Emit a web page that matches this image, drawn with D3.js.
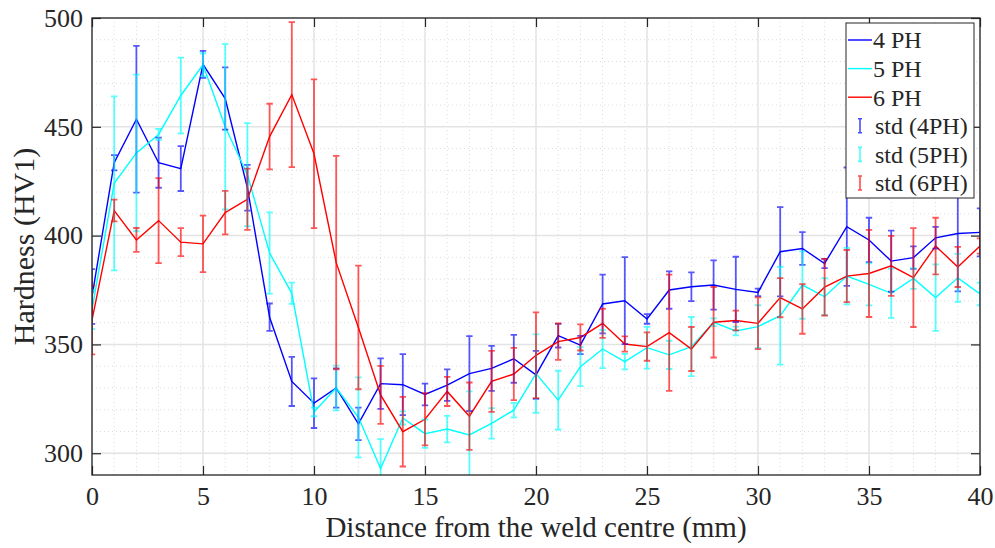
<!DOCTYPE html>
<html>
<head>
<meta charset="utf-8">
<script src="https://cdn.jsdelivr.net/npm/d3@7"></script>
<style>
  body { margin: 0; background: #fff; }
  text { font-family: "Liberation Serif", "Times New Roman", serif; fill: #262626; }
</style>
</head>
<body>
<svg id="chart" width="995" height="548"></svg>
<script>
// Distance from the weld centre (mm)
const distance = [0,1,2,3,4,5,6,7,8,9,10,11,12,13,14,15,16,17,18,19,20,
                  21,22,23,24,25,26,27,28,29,30,31,32,33,34,35,36,37,38,39,40];

// Mean hardness (HV1) per build
const hv4PH = [372,433.5,453.5,433.5,430.8,478.7,463,422,362.5,333,323,330,313.5,332,331.5,327,331.3,336.6,339,343.4,336,
               354,349.7,368.6,370.1,361.7,375,376.5,377.3,375.3,373.9,392.6,394.1,387.2,404.1,398,388.3,389.9,399,401,401.5];
const hv5PH = [366,424,438,446.5,464.4,478.5,450,428,392,373.5,319,330,316.5,293,316.2,309,311.1,308.4,313.7,319.8,336.6,
               324.4,339.8,347.9,342.1,348.5,345.2,349,360.2,356.2,358.2,363.2,377.3,371.9,381.4,377.6,373.5,380.3,371.5,380.6,373.2];
const hv6PH = [361.2,411.5,398,406.9,397,396.2,410.6,416.7,445.5,464.8,437.6,387.6,357.8,326.8,309.9,315.6,328.4,317,333,336.4,345,
               351.3,353.2,359.7,350.2,349,355.4,347.9,360.2,361,359.7,371.5,366.3,376.3,381.4,382.6,386.1,380.7,395.2,385.6,395.2];

// Standard deviations
const sd4PH = [12.6,3.5,33.7,11.5,10.3,6.2,14.3,10.5,6.3,11.3,11.4,9,7.5,11.6,14,5,7.2,17.2,10.3,11,11,
               5.4,4.2,13.5,20,2.2,8.6,6.6,11.3,15,1.7,20.5,7.5,2.1,27.2,10.2,14,5.2,5,26.6,11];
const sd5PH = [9,40,36,2.5,17.4,5.3,38,23.7,18.7,4.9,2,10.3,18.4,13.5,3,6.5,6.1,20,7,3.3,18,
               13.5,9,8.8,3.6,9.6,6.5,13.6,1.8,2,9.8,22.5,15.5,8.5,13,9.7,11.3,4.8,15.3,11,5.2];
const sd6PH = [15.8,5,5.5,19.5,6.4,13,10,14.1,15.1,33.3,34.2,49,28.4,13.3,16,12,6.7,15.5,14,12,19.7,
               8.4,6,6.7,3.5,6.5,26.7,10.1,16.2,4.5,11.9,9,11.4,13,12,20,13.8,22.7,13,9.2,3.5];

const seriesNames = ["4 PH", "5 PH", "6 PH"];
const stdNames = ["std (4PH)", "std (5PH)", "std (6PH)"];
const seriesColors = ["#0000ff", "#00ffff", "#ff0000"];

const xTicks = [0,5,10,15,20,25,30,35,40];
const yTicks = [300,350,400,450,500];
const xMinor = distance;
const yMinor = [290,300,310,320,330,340,350,360,370,380,390,400,410,420,430,440,450,460,470,480,490,500];

const means = [hv4PH, hv5PH, hv6PH];
const sds = [sd4PH, sd5PH, sd6PH];

const svg = d3.select("#chart");
const L = 92, R = 980, T = 18, B = 475;
const x = d3.scaleLinear().domain([0, 40]).range([L, R]);
const y = d3.scaleLinear().domain([290, 500]).range([B, T]);
const axisColor = "#262626";

svg.append("defs").append("clipPath").attr("id", "plotClip")
  .append("rect").attr("x", L).attr("y", T).attr("width", R - L).attr("height", B - T);

// minor grid (dotted)
const grid = svg.append("g");
grid.selectAll(".mx").data(xMinor.filter(v => v % 5 !== 0)).join("line")
  .attr("x1", d => x(d)).attr("x2", d => x(d)).attr("y1", T).attr("y2", B)
  .attr("stroke", "#dcdcdc").attr("stroke-width", 1).attr("stroke-dasharray", "1,3");
grid.selectAll(".my").data(yMinor.filter(v => v % 50 !== 0)).join("line")
  .attr("x1", L).attr("x2", R).attr("y1", d => y(d)).attr("y2", d => y(d))
  .attr("stroke", "#dcdcdc").attr("stroke-width", 1).attr("stroke-dasharray", "1,3");
// major grid
grid.selectAll(".gx").data(xTicks).join("line")
  .attr("x1", d => x(d)).attr("x2", d => x(d)).attr("y1", T).attr("y2", B)
  .attr("stroke", "#e3e3e3").attr("stroke-width", 1.5);
grid.selectAll(".gy").data(yTicks).join("line")
  .attr("x1", L).attr("x2", R).attr("y1", d => y(d)).attr("y2", d => y(d))
  .attr("stroke", "#e3e3e3").attr("stroke-width", 1.5);

// mean lines
const plot = svg.append("g").attr("clip-path", "url(#plotClip)");
const line = d3.line().x((d, i) => x(distance[i])).y(d => y(d));
means.forEach((m, k) => {
  plot.append("path").datum(m).attr("d", line)
    .attr("fill", "none").attr("stroke", seriesColors[k]).attr("stroke-width", 1.4);
});

// error bars
const cap = 3.2;
means.forEach((m, k) => {
  const g = plot.append("g").attr("stroke", seriesColors[k]).attr("stroke-width", 1.8)
    .attr("opacity", 0.65).attr("fill", "none");
  m.forEach((v, i) => {
    const cx = x(distance[i]);
    const y1 = y(v + sds[k][i]), y2 = y(v - sds[k][i]);
    g.append("path").attr("d",
      `M${cx},${y1}V${y2}M${cx - cap},${y1}H${cx + cap}M${cx - cap},${y2}H${cx + cap}`);
  });
});

// axes box and ticks (ticks inward, mirrored)
const axes = svg.append("g");
const tickLen = 9;
const xAxisB = d3.axisBottom(x).tickValues(xTicks).tickSize(-tickLen).tickPadding(12);
const xAxisT = d3.axisTop(x).tickValues(xTicks).tickSize(-tickLen).tickFormat("");
const yAxisL = d3.axisLeft(y).tickValues(yTicks).tickSize(-tickLen).tickPadding(9);
const yAxisR = d3.axisRight(y).tickValues(yTicks).tickSize(-tickLen).tickFormat("");

function styleAxis(g) {
  g.select(".domain").remove();
  g.selectAll(".tick line").attr("stroke", axisColor).attr("stroke-width", 1.2);
  g.selectAll(".tick text").attr("font-size", 26).attr("fill", axisColor)
    .attr("font-family", "Liberation Serif, Times New Roman, serif");
}
axes.append("g").attr("transform", `translate(0,${B})`).call(xAxisB).call(styleAxis);
axes.append("g").attr("transform", `translate(0,${T})`).call(xAxisT).call(styleAxis);
axes.append("g").attr("transform", `translate(${L},0)`).call(yAxisL).call(styleAxis);
axes.append("g").attr("transform", `translate(${R},0)`).call(yAxisR).call(styleAxis);
axes.append("rect").attr("x", L).attr("y", T).attr("width", R - L).attr("height", B - T)
  .attr("fill", "none").attr("stroke", axisColor).attr("stroke-width", 1.3);

// axis titles
svg.append("text").attr("x", (L + R) / 2).attr("y", 537).attr("text-anchor", "middle")
  .attr("font-size", 29).text("Distance from the weld centre (mm)");
svg.append("text").attr("transform", `translate(33.5,${(T + B) / 2}) rotate(-90)`)
  .attr("text-anchor", "middle").attr("font-size", 30).text("Hardness (HV1)");

// legend
const lg = svg.append("g");
const lx = 846, ly = 23, lw = 128, lh = 175, rowH = 28.6, row0 = 40;
lg.append("rect").attr("x", lx).attr("y", ly).attr("width", lw).attr("height", lh)
  .attr("fill", "#fff").attr("stroke", axisColor).attr("stroke-width", 1);
seriesNames.forEach((name, k) => {
  const cy = row0 + k * rowH;
  lg.append("line").attr("x1", lx + 2).attr("x2", lx + 26).attr("y1", cy).attr("y2", cy)
    .attr("stroke", seriesColors[k]).attr("stroke-width", 1.4);
  lg.append("text").attr("x", lx + 27).attr("y", cy).attr("dy", "0.35em")
    .attr("font-size", 24).text(name);
});
stdNames.forEach((name, k) => {
  const cy = row0 + (k + 3) * rowH;
  const cx = lx + 14;
  lg.append("path").attr("d", `M${cx},${cy - 7}V${cy + 7}M${cx - 2},${cy - 7}H${cx + 2}M${cx - 2},${cy + 7}H${cx + 2}`)
    .attr("stroke", seriesColors[k]).attr("stroke-width", 1.6).attr("opacity", 0.7).attr("fill", "none");
  lg.append("text").attr("x", lx + 29).attr("y", cy).attr("dy", "0.35em")
    .attr("font-size", 24).text(name);
});
</script>
</body>
</html>
